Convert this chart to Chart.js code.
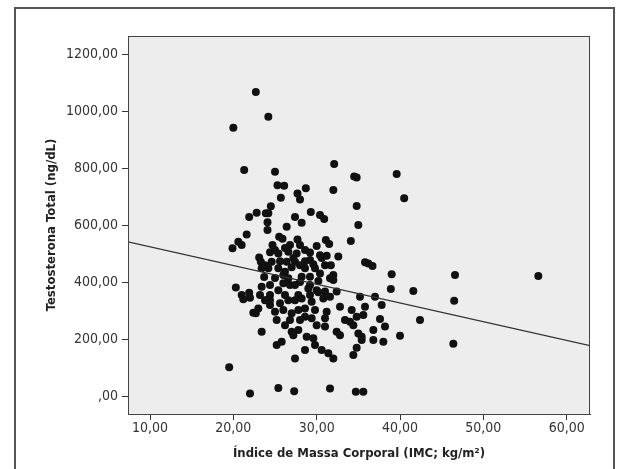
<!DOCTYPE html>
<html>
<head>
  <meta charset="utf-8">
  <title>Testosterona Total x IMC</title>
  <script src="https://cdn.jsdelivr.net/npm/chart.js"></script>
  <style>
    html, body { margin: 0; padding: 0; background: #fff; }
    .frame { position: absolute; left: 14px; top: 7px; width: 601px; height: 470px; border: 2px solid #555; box-sizing: border-box; }
    .chart-box { position: absolute; left: 0; top: 0; width: 625px; height: 469px; }
  </style>
</head>
<body>
  <div class="frame"></div>
  <div class="chart-box"><canvas id="scatterChart" width="625" height="469"></canvas></div>
  <script>
    // IMC (kg/m2) de cada paciente
    const imc = [
      20.0, 22.7, 24.2, 21.3, 25.0, 25.3, 26.1, 25.7, 24.5, 22.8, 21.9, 23.9, 24.2, 24.1, 24.1,
      27.7, 28.0, 28.7, 27.4, 28.2, 29.3, 26.4, 21.6, 25.5, 25.9, 27.7, 30.4, 30.9, 32.1, 34.5,
      34.8, 39.6, 40.5, 32.0, 34.8, 35.0, 34.1, 31.1, 31.5, 30.0, 28.6, 29.2, 32.6, 20.6, 21.0,
      19.9, 24.7, 20.3, 21.0, 21.2, 21.9, 22.0, 22.4, 22.7, 23.0, 23.4, 19.5, 22.0, 25.4, 27.3,
      31.6, 34.7, 35.6, 23.1, 23.3, 24.4, 25.4, 26.6, 27.6, 31.2, 24.6, 25.6, 26.4, 27.4, 28.6,
      29.6, 24.2, 25.4, 26.2, 28.6, 29.8, 31.7, 23.4, 26.6, 28.2, 29.2, 30.4, 31.6, 27.4, 29.2,
      23.4, 24.4, 23.2, 24.4, 26.2, 27.8, 29.0, 30.0, 31.0, 31.6, 24.4, 25.6, 26.6, 28.2, 29.4,
      30.8, 25.0, 26.0, 25.2, 27.0, 27.8, 28.6, 28.6, 31.0, 30.0, 31.0, 27.0, 27.8, 27.2, 28.8,
      29.6, 25.8, 25.2, 29.8, 28.6, 30.6, 27.4, 26.8, 24.0, 35.8, 36.2, 36.7, 32.0, 39.0, 38.9,
      41.6, 32.4, 35.2, 37.0, 32.8, 34.2, 35.8, 37.8, 34.8, 35.6, 33.4, 34.0, 34.4, 37.6, 38.2,
      36.8, 32.4, 32.8, 35.0, 35.4, 35.4, 36.8, 38.0, 40.0, 34.8, 34.4, 42.4, 46.6, 56.6, 46.5,
      46.4, 32.0, 31.4, 31.2, 29.4, 32.0, 26.0, 27.0, 30.2, 25.0, 28.0, 23.7, 30.6, 26.8,
      23.8, 25.0, 26.2, 27.2, 28.0, 29.2, 30.4, 31.0, 30.2, 28.0, 26.8, 25.4, 23.8, 26.0,
      29.2, 27.4, 29.8, 28.0, 26.2, 24.4
    ];
    // Testosterona total (ng/dL) na mesma ordem
    const testosterona = [
      943, 1068, 981, 794, 788, 741, 739, 697, 667, 644, 629, 642, 642, 611, 583,
      712, 691, 730, 629, 609, 647, 595, 568, 560, 553, 550, 636, 622, 815, 771,
      768, 780, 695, 724, 668, 601, 545, 548, 534, 527, 513, 504, 490, 542, 531,
      519, 531, 381, 355, 340, 363, 345, 293, 291, 308, 226, 101, 9, 28, 17,
      27, 15, 15, 487, 472, 505, 501, 507, 501, 493, 472, 474, 472, 472, 474,
      463, 449, 449, 437, 449, 449, 460, 449, 414, 419, 419, 431, 414, 390, 390,
      384, 390, 355, 355, 355, 355, 378, 372, 367, 349, 337, 326, 337, 343, 331,
      343, 296, 302, 267, 291, 302, 279, 308, 273, 249, 244, 226, 232, 214, 208,
      203, 191, 179, 179, 162, 162, 132, 267, 337, 470, 466, 457, 425, 428, 376,
      369, 367, 349, 349, 314, 302, 314, 320, 279, 285, 267, 261, 249, 271, 244,
      232, 226, 214, 220, 208, 197, 197, 191, 212, 170, 144, 267, 425, 422, 335,
      184, 132, 150, 296, 273, 408, 396, 453, 404, 415, 531, 418, 485, 531,
      460, 513, 520, 485, 460, 478, 495, 460, 365, 401, 390, 372, 337, 425,
      355, 337, 302, 267, 249, 320
    ];
    // reta de regressão (extremos do eixo x)
    const fitX = [7.36, 62.8];
    const fitY = [542, 177];

    const xTicks = [10, 20, 30, 40, 50, 60];
    const xTickLabels = ['10,00', '20,00', '30,00', '40,00', '50,00', '60,00'];
    const yTicks = [0, 200, 400, 600, 800, 1000, 1200];
    const yTickLabels = [',00', '200,00', '400,00', '600,00', '800,00', '1000,00', '1200,00'];

    const narrow = "'Liberation Sans Narrow', 'Arial Narrow', 'DejaVu Sans Condensed', sans-serif";

    // fundo cinza e moldura da área do gráfico
    const plotFrame = {
      id: 'plotFrame',
      beforeDraw(chart) {
        const a = chart.chartArea, ctx = chart.ctx;
        ctx.save();
        ctx.fillStyle = '#ededed';
        ctx.fillRect(a.left, a.top, a.right - a.left, a.bottom - a.top);
        ctx.restore();
      },
      afterDraw(chart) {
        const a = chart.chartArea, ctx = chart.ctx;
        ctx.save();
        ctx.strokeStyle = '#444';
        ctx.lineWidth = 1;
        ctx.strokeRect(a.left + 0.5, a.top + 0.5, a.right - a.left - 1, a.bottom - a.top);
        ctx.restore();
      }
    };

    new Chart(document.getElementById('scatterChart'), {
      type: 'scatter',
      data: {
        datasets: [{
          type: 'line',
          data: fitX.map((x, i) => ({x: x, y: fitY[i]})),
          borderColor: '#333',
          borderWidth: 1.2,
          pointRadius: 0,
          fill: false
        },
        {
          data: imc.map((x, i) => ({x: x, y: testosterona[i]})),
          backgroundColor: '#111',
          borderWidth: 0,
          pointRadius: 4
        }]
      },
      options: {
        responsive: false,
        animation: false,
        devicePixelRatio: 1,
        layout: { padding: { top: 36, right: 35, left: 0, bottom: 0 } },
        plugins: { legend: { display: false }, tooltip: { enabled: false } },
        scales: {
          x: {
            type: 'linear',
            min: 7.36,
            max: 62.8,
            afterBuildTicks: s => { s.ticks = xTicks.map(v => ({value: v})); },
            afterFit: s => { s.height = 55; },
            grid: { drawOnChartArea: false, drawTicks: true, tickLength: 6, color: '#333' },
            border: { display: true, color: '#444' },
            ticks: {
              color: '#333', padding: 0, maxRotation: 0, autoSkip: false,
              font: { family: narrow, size: 14 },
              callback: v => xTickLabels[xTicks.indexOf(v)]
            },
            title: {
              display: true,
              text: 'Índice de Massa Corporal (IMC; kg/m²)',
              color: '#222',
              font: { family: narrow, size: 13, weight: 'bold' },
              padding: { top: 0, bottom: 8 }
            }
          },
          y: {
            type: 'linear',
            min: -63,
            max: 1265,
            afterBuildTicks: s => { s.ticks = yTicks.map(v => ({value: v})); },
            afterFit: s => { s.width = 128; },
            grid: { drawOnChartArea: false, drawTicks: true, tickLength: 6, color: '#333' },
            border: { display: true, color: '#444' },
            ticks: {
              color: '#333', padding: 4, autoSkip: false,
              font: { family: narrow, size: 14 },
              callback: v => yTickLabels[yTicks.indexOf(v)]
            },
            title: {
              display: true,
              text: 'Testosterona Total (ng/dL)',
              color: '#222',
              font: { family: narrow, size: 13, weight: 'bold' },
              padding: { top: 44, bottom: 0 }
            }
          }
        }
      },
      plugins: [plotFrame]
    });
  </script>
</body>
</html>
